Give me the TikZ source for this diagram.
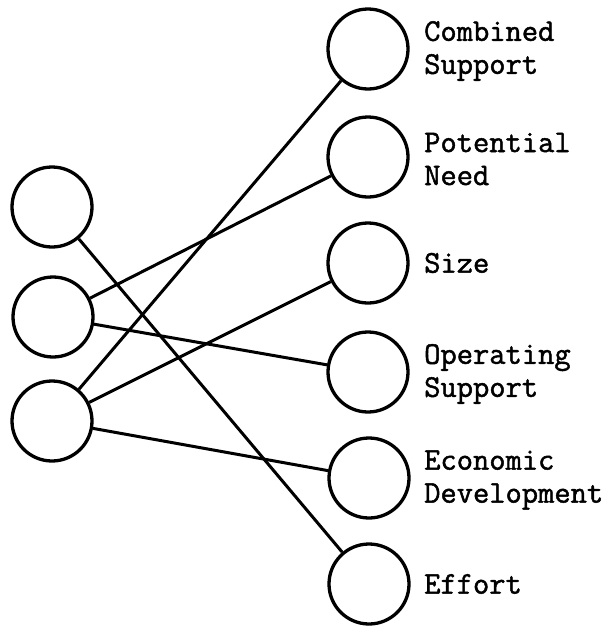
\documentclass[tikz,border=0pt]{standalone}
\usepackage{fontspec}
\newfontfamily\twfont{Latin Modern Mono}[FakeBold=1.5]
\begin{document}
\begin{tikzpicture}[x=1pt,y=-1pt,
  circ/.style={circle,draw,line width=3.3pt,minimum size=80pt,inner sep=0pt},
  lab/.style={anchor=west,inner sep=0pt,align=left,font=\twfont\fontsize{31.6}{33}\selectfont},
  conn/.style={line width=3pt}]
\useasboundingbox (0,0) rectangle (605,627);
\node[circ] (L1) at (52,207) {};
\node[circ] (L2) at (53,317) {};
\node[circ] (L3) at (52,421) {};
\node[circ] (R1) at (368,49) {};
\node[circ] (R2) at (368,157) {};
\node[circ] (R3) at (368,263) {};
\node[circ] (R4) at (368,372) {};
\node[circ] (R5) at (369,478) {};
\node[circ] (R6) at (369,584) {};
\node[lab] (T1) at (424,51) {Combined\\Support};
\node[lab] (T2) at (424,159) {Potential\\Need};
\node[lab] (T3) at (424,263) {Size};
\node[lab] (T4) at (424,374) {Operating\\Support};
\node[lab] (T5) at (424,480) {Economic\\Development};
\node[lab] (T6) at (424,584) {Effort};
\draw[conn] (L1) -- (R6);
\draw[conn] (L2) -- (R2);
\draw[conn] (L2) -- (R4);
\draw[conn] (L3) -- (R1);
\draw[conn] (L3) -- (R3);
\draw[conn] (L3) -- (R5);
\end{tikzpicture}
\end{document}
